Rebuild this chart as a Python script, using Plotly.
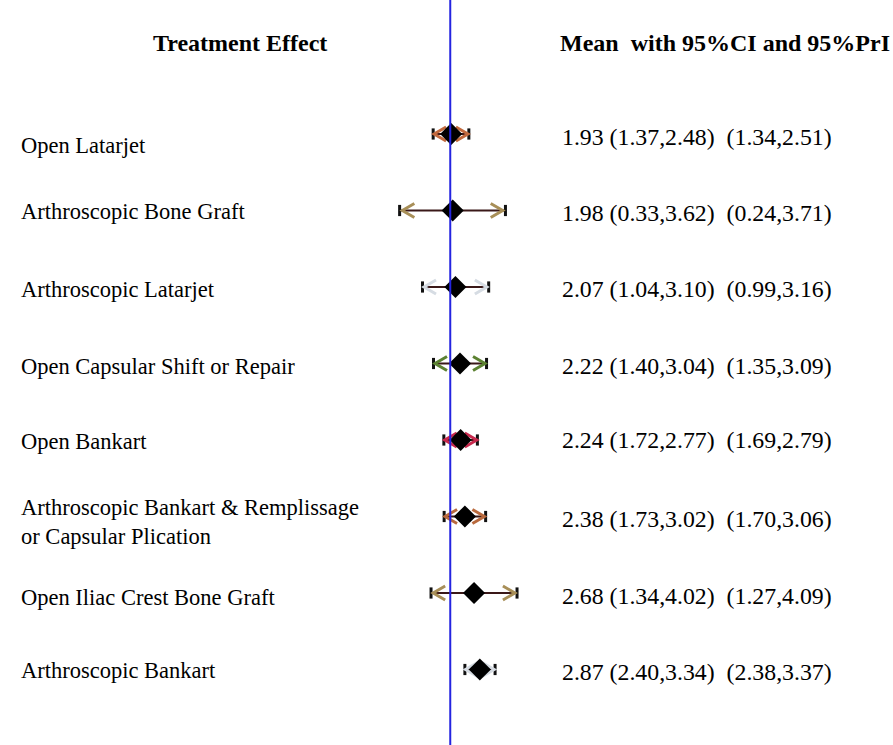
import plotly.graph_objects as go

# Network meta-analysis summary: mean treatment effect with 95% CI and 95% PrI
treatments = [
    "Open Latarjet",
    "Arthroscopic Bone Graft",
    "Arthroscopic Latarjet",
    "Open Capsular Shift or Repair",
    "Open Bankart",
    "Arthroscopic Bankart & Remplissage<br>or Capsular Plication",
    "Open Iliac Crest Bone Graft",
    "Arthroscopic Bankart",
]
mean = [1.93, 1.98, 2.07, 2.22, 2.24, 2.38, 2.68, 2.87]
ci_low = [1.37, 0.33, 1.04, 1.40, 1.72, 1.73, 1.34, 2.40]
ci_high = [2.48, 3.62, 3.10, 3.04, 2.77, 3.02, 4.02, 3.34]
pri_low = [1.34, 0.24, 0.99, 1.35, 1.69, 1.70, 1.27, 2.38]
pri_high = [2.51, 3.71, 3.16, 3.09, 2.79, 3.06, 4.09, 3.37]
reference_line = 1.9

chevron_colors = ["#c26a3e", "#a88f58", "#d6dce3", "#5c8232", "#c82a4e",
                  "#b96a3e", "#a88f58", "#d6dce3"]

# axis geometry (px per unit) used to size the chevrons
PX_PER_X = 30.5
PX_PER_ROW = 76.5
ZERO_PX = 392.3
FIRST_ROW_PX = 134
W, H = 893, 745

x_range = [-ZERO_PX / PX_PER_X, (W - ZERO_PX) / PX_PER_X]
y_range = [(H - FIRST_ROW_PX) / PX_PER_ROW, -FIRST_ROW_PX / PX_PER_ROW]

arm_dx = 12 / PX_PER_X
arm_dy = 7 / PX_PER_ROW

fig = go.Figure()

# reference line
fig.add_shape(type="line", x0=reference_line, x1=reference_line, y0=0, y1=1,
              xref="x", yref="paper", line=dict(color="#2424e0", width=2))

for i in range(len(treatments)):
    # prediction-interval line
    fig.add_trace(go.Scatter(
        x=[pri_low[i], pri_high[i]], y=[i, i], mode="lines",
        line=dict(color="#3a1818", width=2), hoverinfo="skip"))
    # end caps
    fig.add_trace(go.Scatter(
        x=[pri_low[i], pri_high[i]], y=[i, i], mode="markers",
        marker=dict(symbol="line-ns", size=8, line=dict(color="#111111", width=3)),
        hoverinfo="skip"))
    # confidence-interval chevrons
    c = chevron_colors[i]
    lo, hi = ci_low[i], ci_high[i]
    fig.add_trace(go.Scatter(
        x=[lo + arm_dx, lo, lo + arm_dx, None, hi - arm_dx, hi, hi - arm_dx],
        y=[i - arm_dy, i, i + arm_dy, None, i - arm_dy, i, i + arm_dy],
        mode="lines", line=dict(color=c, width=3), hoverinfo="skip"))
    # mean
    fig.add_trace(go.Scatter(
        x=[mean[i]], y=[i], mode="markers",
        marker=dict(symbol="diamond", size=17, color="black"),
        hoverinfo="skip"))

serif = "Liberation Serif, Times New Roman, serif"
annotations = []
label_shift = [-11, -1, -2, -3, -1, -5, -4, -1]
value_shift = [-3, -2, -2, -2, 0, -2, -3, -2]
for i, name in enumerate(treatments):
    annotations.append(dict(
        x=0.021, xref="paper", y=i, yref="y", yshift=label_shift[i],
        text=name, showarrow=False, xanchor="left", yanchor="middle", align="left",
        font=dict(family=serif, size=22.5, color="black")))
    txt = f"{mean[i]:.2f} ({ci_low[i]:.2f},{ci_high[i]:.2f})&nbsp;&nbsp;({pri_low[i]:.2f},{pri_high[i]:.2f})"
    annotations.append(dict(
        x=560 / W, xref="paper", y=i, yref="y", yshift=value_shift[i],
        text=txt, showarrow=False, xanchor="left", yanchor="middle",
        font=dict(family=serif, size=23.8, color="black")))

annotations.append(dict(
    x=240 / W, xref="paper", y=1 - 43 / H, yref="paper",
    text="<b>Treatment Effect</b>", showarrow=False, xanchor="center", yanchor="middle",
    font=dict(family=serif, size=24, color="black")))
annotations.append(dict(
    x=558 / W, xref="paper", y=1 - 43 / H, yref="paper",
    text="<b>Mean&nbsp;&nbsp;with 95%CI and 95%PrI</b>", showarrow=False,
    xanchor="left", yanchor="middle",
    font=dict(family=serif, size=24, color="black")))

fig.update_layout(
    width=W, height=H,
    margin=dict(l=0, r=0, t=0, b=0),
    paper_bgcolor="white", plot_bgcolor="white",
    showlegend=False,
    xaxis=dict(range=x_range, visible=False, fixedrange=True),
    yaxis=dict(range=y_range, visible=False, fixedrange=True),
    annotations=annotations,
)

fig.write_html("out.html")
